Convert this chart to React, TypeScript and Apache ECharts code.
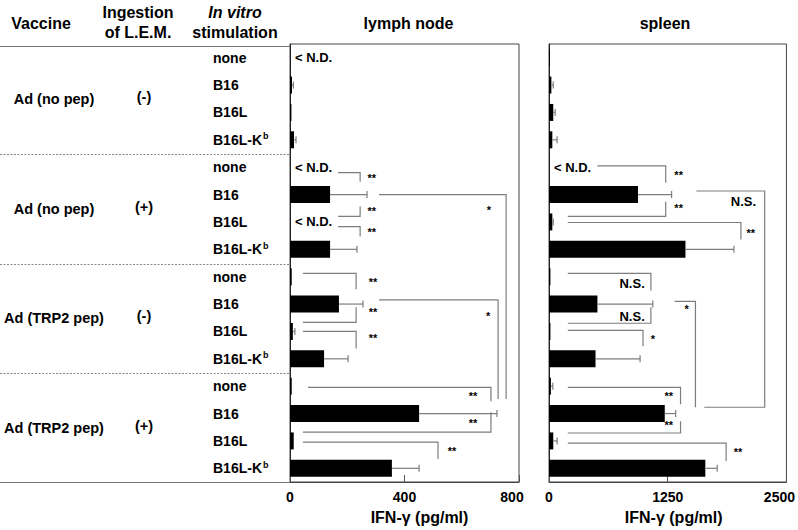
import React, { useEffect, useRef } from "react";
import * as echarts from "echarts";

// ---------- data ----------
const stimulations = [
  "none", "B16", "B16L", "B16L-Kb",
  "none", "B16", "B16L", "B16L-Kb",
  "none", "B16", "B16L", "B16L-Kb",
  "none", "B16", "B16L", "B16L-Kb",
];
const vaccines = ["Ad (no pep)", "Ad (no pep)", "Ad (TRP2 pep)", "Ad (TRP2 pep)"];
const ingestion = ["(-)", "(+)", "(-)", "(+)"];

const lymphMean = [0, 7, 5, 14, 0, 140, 0, 140, 6, 171, 10, 119, 6, 451, 13, 356];
const lymphErr = [0, 5, 0, 7, 0, 129, 0, 94, 0, 84, 7, 84, 0, 272, 0, 95];
const lymphND = [1, 0, 0, 0, 1, 0, 1, 0, 0, 0, 0, 0, 0, 0, 0, 0];

const spleenMean = [10, 25, 45, 35, 0, 937, 35, 1437, 15, 510, 15, 490, 20, 1219, 45, 1646];
const spleenErr = [0, 20, 20, 50, 0, 354, 10, 510, 0, 583, 0, 469, 20, 115, 40, 125];
const spleenND = [0, 0, 0, 0, 1, 0, 0, 0, 0, 0, 0, 0, 0, 0, 0, 0];

const lymphMax = 800;
const lymphInterval = 400;
const spleenMax = 2500;
const spleenInterval = 1250;

// brackets: [xFrom, armRow, xTo, endRow, xBack?]
const lymphBrackets: number[][] = [
  [168, 4.2, 245, 4.53],
  [168, 5.8, 245, 5.44],
  [168, 6.17, 245, 6.53],
  [311, 5.0, 755, 12.47],
  [45, 7.88, 231, 8.46],
  [45, 9.67, 231, 9.12],
  [45, 10.0, 231, 10.62],
  [311, 8.85, 727, 12.47],
  [63, 12.04, 702, 12.55],
  [45, 13.68, 702, 12.95],
  [45, 14.04, 517, 14.66],
];
const lymphSig: [number, number, string][] = [
  [286, 4.38, "**"], [286, 5.59, "**"], [286, 6.35, "**"], [695, 5.55, "*"],
  [290, 8.21, "**"], [290, 9.3, "**"], [290, 10.25, "**"], [692, 9.45, "*"],
  [639, 12.36, "**"], [639, 13.35, "**"], [566, 14.37, "**"],
];

const spleenBrackets: number[][] = [
  [510, 3.95, 1229, 4.57],
  [198, 5.8, 1229, 5.26],
  [198, 6.02, 2021, 6.64],
  [1552, 4.87, 2271, 12.77, 1635],
  [198, 7.88, 1073, 8.5],
  [198, 9.7, 1073, 9.12],
  [198, 9.96, 990, 10.54],
  [1323, 8.9, 1542, 12.77],
  [198, 12.04, 1385, 12.66],
  [198, 13.71, 1385, 13.28],
  [198, 14.08, 1865, 14.73],
];
const spleenSig: [number, number, string][] = [
  [1365, 4.27, "**"], [1365, 5.48, "**"], [2125, 6.39, "**"], [2047, 5.26, "N.S."],
  [875, 8.25, "N.S."], [875, 9.45, "N.S."], [1094, 10.29, "*"], [1448, 9.19, "*"],
  [1260, 12.36, "**"], [1260, 13.42, "**"], [1990, 14.41, "**"],
];

// ---------- layout ----------
const FONT = "'Liberation Sans', Arial, Helvetica, sans-serif";
const TOP = 44;
const HEIGHT = 439;
const ROWS = stimulations.length;
const ROW_H = HEIGHT / ROWS;
const LYMPH = { left: 290, width: 229 };
const SPLEEN = { left: 549, width: 240 };
const GRAY = "#7d7d7d";

function txt(text: string, x: number, y: number, size = 16, extra: any = {}) {
  return {
    type: "text",
    x,
    y,
    silent: true,
    style: {
      text,
      fill: "#000",
      fontSize: size,
      fontWeight: "bold",
      fontFamily: FONT,
      align: "center",
      textAlign: "center",
      verticalAlign: "middle",
      textVerticalAlign: "middle",
      ...extra,
    },
  };
}

function pointAt(api: any, x: number, r: number) {
  const base = Math.floor(r);
  const c0 = api.coord([x, base]);
  const c1 = api.coord([x, base + 1]);
  return [c0[0], c0[1] + (r - base) * (c1[1] - c0[1])];
}

function bracketSeries(idx: number, brackets: number[][]) {
  return {
    type: "custom",
    xAxisIndex: idx,
    yAxisIndex: idx,
    clip: false,
    silent: true,
    z: 5,
    data: brackets.map((b) => [b[2], Math.floor(b[1])]),
    renderItem: (params: any, api: any) => {
      const b = brackets[params.dataIndex];
      const pts = [pointAt(api, b[0], b[1]), pointAt(api, b[2], b[1]), pointAt(api, b[2], b[3])];
      if (b.length > 4) pts.push(pointAt(api, b[4], b[3]));
      return {
        type: "polyline",
        shape: { points: pts },
        style: { stroke: GRAY, fill: null, lineWidth: 1.2 },
      };
    },
  };
}

function sigSeries(idx: number, sig: [number, number, string][]) {
  return {
    type: "custom",
    xAxisIndex: idx,
    yAxisIndex: idx,
    clip: false,
    silent: true,
    z: 6,
    data: sig.map((s) => [s[0], Math.floor(s[1])]),
    renderItem: (params: any, api: any) => {
      const s = sig[params.dataIndex];
      const p = pointAt(api, s[0], s[1]);
      const isNS = s[2] === "N.S.";
      return {
        type: "text",
        x: p[0],
        y: p[1],
        style: {
          text: s[2],
          fill: "#000",
          fontSize: isNS ? 13 : 11,
          fontWeight: "bold",
          fontFamily: FONT,
          align: "center",
          textAlign: "center",
          verticalAlign: "middle",
          textVerticalAlign: "middle",
        },
      };
    },
  };
}

function errSeries(idx: number, mean: number[], err: number[]) {
  return {
    type: "custom",
    xAxisIndex: idx,
    yAxisIndex: idx,
    clip: false,
    silent: true,
    z: 4,
    data: mean.map((m, i) => [m + err[i], i]),
    renderItem: (params: any, api: any) => {
      const i = params.dataIndex;
      if (!(err[i] > 0)) return null;
      const p0 = api.coord([mean[i], i]);
      const p1 = api.coord([mean[i] + err[i], i]);
      return {
        type: "group",
        children: [
          { type: "line", shape: { x1: p0[0], y1: p0[1], x2: p1[0], y2: p1[1] }, style: { stroke: GRAY, lineWidth: 1.2 } },
          { type: "line", shape: { x1: p1[0], y1: p1[1] - 3.5, x2: p1[0], y2: p1[1] + 3.5 }, style: { stroke: GRAY, lineWidth: 1.2 } },
        ],
      };
    },
  };
}

function ndSeries(idx: number, nd: number[]) {
  const rows = nd.map((v, i) => (v ? i : -1)).filter((i) => i >= 0);
  return {
    type: "custom",
    xAxisIndex: idx,
    yAxisIndex: idx,
    clip: false,
    silent: true,
    z: 6,
    data: rows.map((r) => [0, r]),
    renderItem: (params: any, api: any) => {
      const r = rows[params.dataIndex];
      const p = api.coord([0, r]);
      return {
        type: "text",
        x: p[0] + 5,
        y: p[1],
        style: {
          text: "< N.D.",
          fill: "#000",
          fontSize: 13,
          fontWeight: "bold",
          fontFamily: FONT,
          align: "left",
          textAlign: "left",
          verticalAlign: "middle",
          textVerticalAlign: "middle",
        },
      };
    },
  };
}

function xAxisFor(idx: number, max: number, interval: number, padLeft: number) {
  return {
    type: "value",
    gridIndex: idx,
    min: 0,
    max,
    interval,
    axisLine: { show: true, lineStyle: { color: "#444", width: 1 } },
    axisTick: { show: true, inside: true, length: 7, lineStyle: { color: "#555" } },
    splitLine: { show: false },
    axisLabel: {
      show: true,
      margin: 8,
      showMinLabel: true,
      showMaxLabel: true,
      color: "#000",
      fontSize: 14,
      fontWeight: "bold",
      fontFamily: FONT,
      formatter: (v: number) => (v === max ? `{r|${v}}` : `${v}`),
      rich: {
        r: { padding: [0, 14, 0, 0], fontSize: 14, fontWeight: "bold", fontFamily: FONT, color: "#000" },
      },
    },
    name: "IFN-\u03b3 (pg/ml)",
    nameLocation: "middle",
    nameGap: 27,
    nameTextStyle: {
      color: "#000",
      fontSize: 16,
      fontWeight: "bold",
      fontFamily: FONT,
      padding: [0, 0, 0, padLeft],
    },
  };
}

function yAxisFor(idx: number, showLabels: boolean) {
  return {
    type: "category",
    gridIndex: idx,
    inverse: true,
    data: stimulations.map((_, i) => String(i)),
    axisLine: { show: true, lineStyle: { color: "#222", width: 1 } },
    axisTick: { show: false },
    splitLine: { show: false },
    axisLabel: {
      show: showLabels,
      margin: 77,
      align: "left",
      color: "#000",
      fontSize: 14,
      fontWeight: "bold",
      fontFamily: FONT,
      formatter: (_v: string, i: number) => {
        const s = stimulations[i];
        return s.endsWith("-Kb") ? `${s.slice(0, -1)}{sup|b}` : s;
      },
      rich: {
        sup: { fontSize: 9, fontWeight: "bold", fontFamily: FONT, color: "#000", padding: [0, 0, 7, 1] },
      },
    },
  };
}

export default function App() {
  const ref = useRef<HTMLDivElement>(null);

  useEffect(() => {
    if (!ref.current) return;
    const chart = echarts.init(ref.current, null, { renderer: "svg" });

    const graphics: any[] = [];
    // header
    graphics.push(txt("Vaccine", 41, 23));
    graphics.push(txt("Ingestion", 138, 12));
    graphics.push(txt("of L.E.M.", 138, 32));
    graphics.push(txt("In vitro", 235, 12, 16, { fontStyle: "italic" }));
    graphics.push(txt("stimulation", 235, 32));
    graphics.push(txt("lymph node", LYMPH.left + LYMPH.width / 2 + 4, 23));
    graphics.push(txt("spleen", SPLEEN.left + SPLEEN.width / 2 - 4, 23));
    // table lines
    graphics.push({
      type: "line",
      silent: true,
      shape: { x1: 0, y1: 46.5, x2: LYMPH.left, y2: 46.5 },
      style: { stroke: "#777", lineWidth: 1 },
    });
    graphics.push({
      type: "line",
      silent: true,
      shape: { x1: 0, y1: TOP + HEIGHT - 0.5, x2: LYMPH.left, y2: TOP + HEIGHT - 0.5 },
      style: { stroke: "#777", lineWidth: 1 },
    });
    for (let k = 1; k < 4; k++) {
      const y = Math.round(TOP + ROW_H * 4 * k) + 0.5;
      graphics.push({
        type: "line",
        silent: true,
        shape: { x1: 0, y1: y, x2: LYMPH.left, y2: y },
        style: { stroke: "#888", lineWidth: 1, lineDash: [2, 1.5] },
      });
    }
    // group labels
    for (let g = 0; g < 4; g++) {
      const y = TOP + ROW_H * (4 * g + 2);
      graphics.push(txt(vaccines[g], 54, y, 14.5));
      graphics.push(txt(ingestion[g], 144, y - 2, 14.5));
    }

    const option: any = {
      animation: false,
      backgroundColor: "#fff",
      grid: [
        { left: LYMPH.left, top: TOP, width: LYMPH.width, height: HEIGHT, show: true, borderColor: "#444", borderWidth: 1, containLabel: false },
        { left: SPLEEN.left, top: TOP, width: SPLEEN.width, height: HEIGHT, show: true, borderColor: "#444", borderWidth: 1, containLabel: false },
      ],
      xAxis: [xAxisFor(0, lymphMax, lymphInterval, 30), xAxisFor(1, spleenMax, spleenInterval, 12)],
      yAxis: [yAxisFor(0, true), yAxisFor(1, false)],
      series: [
        {
          type: "bar",
          xAxisIndex: 0,
          yAxisIndex: 0,
          data: lymphMean,
          barWidth: 17,
          itemStyle: { color: "#000" },
          silent: true,
        },
        {
          type: "bar",
          xAxisIndex: 1,
          yAxisIndex: 1,
          data: spleenMean,
          barWidth: 17,
          itemStyle: { color: "#000" },
          silent: true,
        },
        errSeries(0, lymphMean, lymphErr),
        errSeries(1, spleenMean, spleenErr),
        ndSeries(0, lymphND),
        ndSeries(1, spleenND),
        bracketSeries(0, lymphBrackets),
        bracketSeries(1, spleenBrackets),
        sigSeries(0, lymphSig),
        sigSeries(1, spleenSig),
      ],
      graphic: graphics,
    };

    chart.setOption(option);
    return () => chart.dispose();
  }, []);

  return (
    <div
      ref={ref}
      style={{ position: "fixed", left: 0, top: 0, width: 798, height: 530, background: "#fff" }}
    />
  );
}
